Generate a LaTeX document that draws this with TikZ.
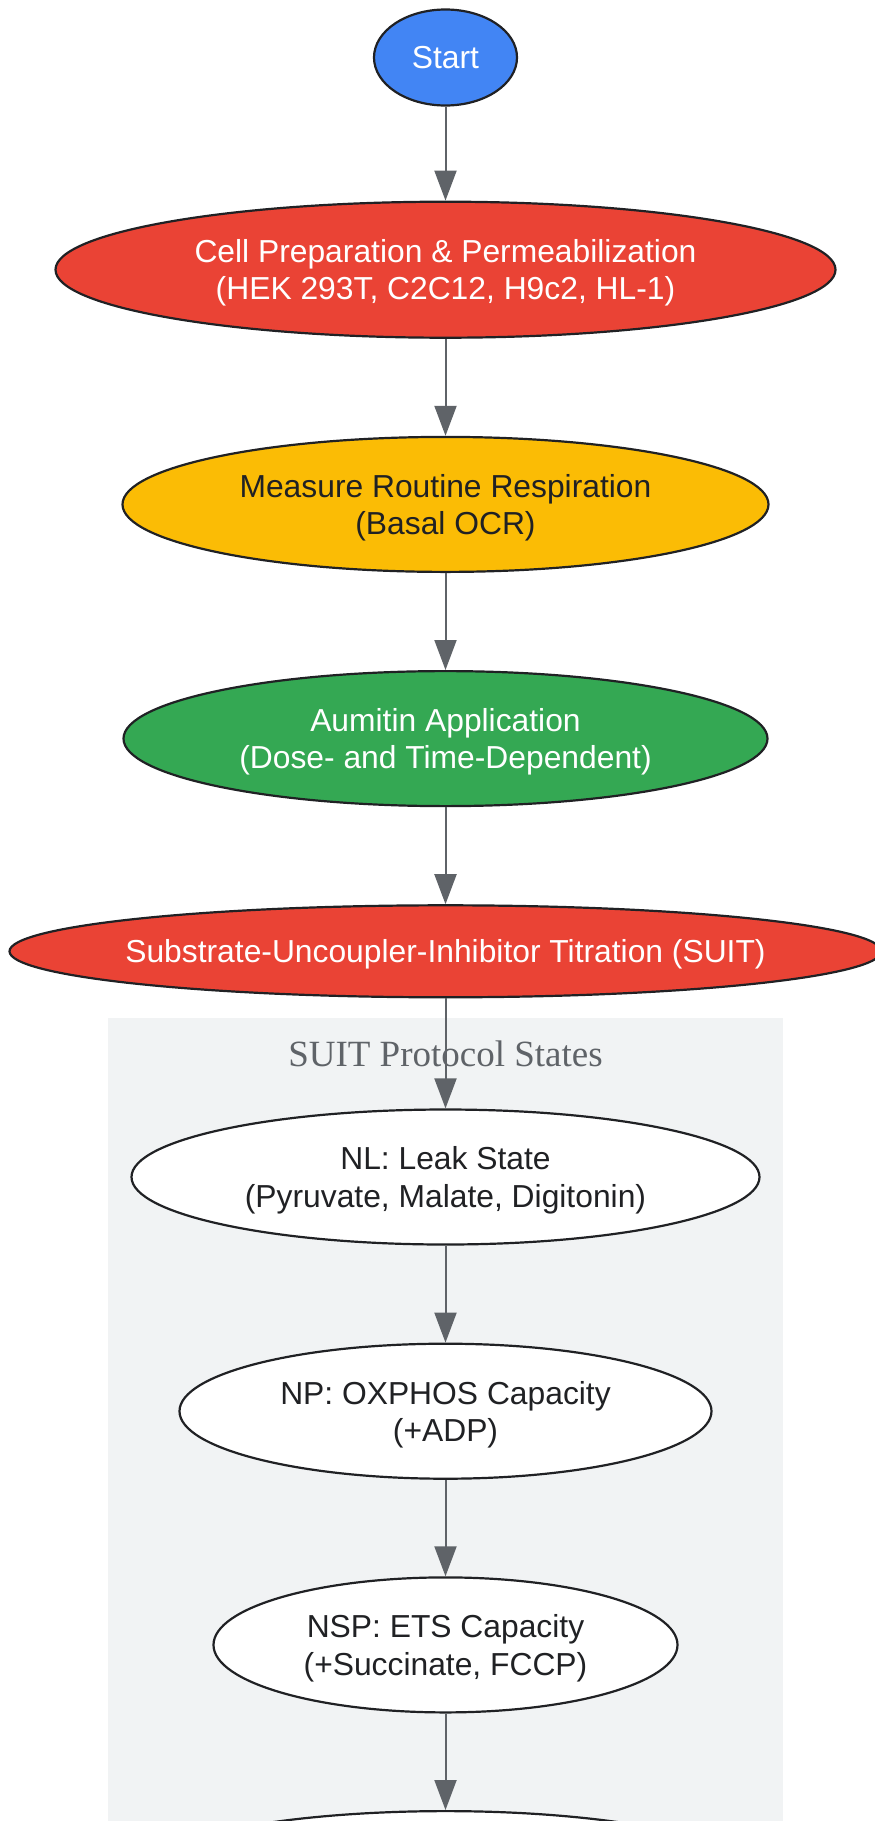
\documentclass[tikz,border=0pt]{standalone}
\usepackage{fontspec}
\setmainfont{Liberation Sans}
\newfontfamily\clusterfont{Liberation Serif}
\usetikzlibrary{shapes.geometric, positioning, arrows.meta}
\definecolor{gblue}{HTML}{4285F4}
\definecolor{gred}{HTML}{EA4335}
\definecolor{gyellow}{HTML}{FBBC05}
\definecolor{ggreen}{HTML}{34A853}
\definecolor{inkdark}{HTML}{202124}
\definecolor{edgegray}{HTML}{5F6368}
\definecolor{clusterfill}{HTML}{F1F3F4}
\tikzset{
x=1pt, y=1pt, % one unit is one pixel of the layout
node distance=97pt, % gap between two stages, border to border
every edge/.style={draw=edgegray, line width=2pt, -{Triangle[length=30pt, width=22pt]}}, % the connectors
stage/.style={ellipse, draw=inkdark, line width=2.2pt, inner sep=0pt, fill=white, text=inkdark, align=center, text depth=-1.3pt, font=\fontsize{31.8}{37.4}\selectfont}, % every stage of the protocol
colored/.style={stage, text=white}, % filled stages with light text
}

\begin{document}
\begin{tikzpicture}
    \useasboundingbox (0,0) rectangle (875,-1821);
    % SUIT cluster
    \fill[clusterfill] (107.7,-1018) rectangle (783,-1830);
    \node[anchor=base, text=edgegray, font=\clusterfont\fontsize{37}{44}\selectfont] (suitlabel) at (445.5,-1066) {SUIT Protocol States};

    \node[colored, fill=gblue, minimum width=143pt, minimum height=96pt] (start) at (445.5,-57.5) {Start};
    \node[colored, fill=gred, minimum width=780pt, minimum height=136pt, below=94pt of start] (prep) {Cell Preparation \& Permeabilization\\(HEK 293T, C2C12, H9c2, HL-1)};
    \node[stage, fill=gyellow, minimum width=646pt, minimum height=135pt, below=of prep] (routine) {Measure Routine Respiration\\(Basal OCR)};
    \node[colored, fill=ggreen, minimum width=644pt, minimum height=135pt, below=of routine] (aumitin) {Aumitin Application\\(Dose- and Time-Dependent)};
    \node[colored, fill=gred, inner xsep=-20pt, minimum width=872pt, minimum height=92pt, below=of aumitin] (suit) {Substrate-Uncoupler-Inhibitor Titration (SUIT)};
    \node[stage, minimum width=628pt, minimum height=135pt, below=110pt of suit] (nl) {NL: Leak State\\(Pyruvate, Malate, Digitonin)};
    \node[stage, minimum width=532pt, minimum height=135pt, below=of nl] (np) {NP: OXPHOS Capacity\\(+ADP)};
    \node[stage, minimum width=464pt, minimum height=135pt, below=96.5pt of np] (nsp) {NSP: ETS Capacity\\(+Succinate, FCCP)};
    \node[stage, minimum width=630pt, minimum height=135pt, below=96.5pt of nsp] (next) {};

    \path
    (start) edge (prep)
    (prep) edge (routine)
    (routine) edge (aumitin)
    (aumitin) edge (suit)
    (suit) edge (nl)
    (nl) edge (np)
    (np) edge (nsp)
    (nsp) edge (next);
\end{tikzpicture}
\end{document}
